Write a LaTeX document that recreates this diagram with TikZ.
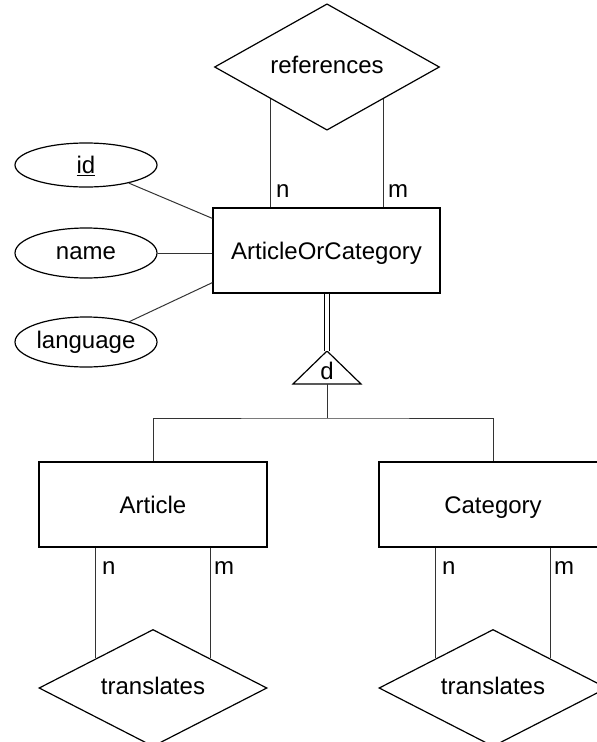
\documentclass[tikz,border=0pt]{standalone}
\usepackage{fontspec}
\setmainfont{Liberation Sans}
\usetikzlibrary{shapes.geometric,calc}

\tikzset{
  every node/.style={font=\fontsize{24}{28}\selectfont, inner sep=0pt},
  shape line/.style={line width=1.2pt, draw=black},
  link/.style={line width=1pt, draw=black!80},
  caps/.style={text height=17pt, text depth=0pt},
  lower/.style={text height=13pt, text depth=0pt},
  entity/.style={shape line, rectangle, minimum height=85pt, caps},
  relation/.style={shape line, diamond, minimum height=113pt, lower},
  attribute/.style={shape line, ellipse, minimum width=142pt, lower},
  card/.style={anchor=base west},
}

\begin{document}
\begin{tikzpicture}[x=1pt, y=-1pt]
  \useasboundingbox (0,0) rectangle (597,742);
  \clip (0,0) rectangle (597,742);

  % relationship on the supertype
  \node[relation, minimum width=225pt] (ref) at (327,67) {references};

  % supertype and its attributes
  \node[entity, minimum width=227pt] (aoc) at (326.5,250.5) {ArticleOrCategory};
  \node[attribute, minimum height=44pt, caps] (id) at (86,165) {\underline{id}};
  \node[attribute, minimum height=50pt] (name) at (86,253) {name};
  \node[attribute, minimum height=50pt] (lang) at (86,342) {language};

  % disjoint specialisation triangle
  \coordinate (apex) at (327,351);
  \coordinate (tribase) at (327,384);
  \draw[shape line] (apex) -- ++(34,33) -- ++(-68,0) -- cycle;
  \node[anchor=base] (dlabel) at (327,379) {d};
  \coordinate (split) at (327,418);

  % subtypes
  \node[entity, minimum width=228pt] (art) at (153,504.5) {Article};
  \node[entity, minimum width=228pt] (cat) at (493,504.5) {Category};

  % translation relationships
  \node[relation, minimum width=228pt] (tl) at (153,688) {translates};
  \node[relation, minimum width=228pt] (tr) at (493,688) {translates};

  % attribute links
  \draw[link] (id) -- ([yshift=-11pt]aoc.north west);
  \draw[link] (name) -- (name -| aoc.west);
  \draw[link] (lang) -- ([yshift=11pt]aoc.south west);

  % references links
  \coordinate (refn) at ($(ref.west)!0.5!(ref.south)$);
  \coordinate (refm) at ($(ref.east)!0.5!(ref.south)$);
  \draw[link] (refn) -- (refn |- aoc.north);
  \draw[link] (refm) -- (refm |- aoc.north);
  \node[card] (refnl) at (276,197) {n};
  \node[card] (refml) at (388,197) {m};

  % specialisation links
  \draw[line width=1pt, draw=black, double=white, double distance=3.5pt] (aoc.south -| apex) -- (apex);
  \draw[link] (tribase) -- (split);
  \draw[link] (art.north) |- (split) -| (cat.north);

  % Article translates
  \coordinate (tln) at ($(tl.west)!0.5!(tl.north)$);
  \coordinate (tlm) at ($(tl.east)!0.5!(tl.north)$);
  \draw[link] (tln) -- (tln |- art.south);
  \draw[link] (tlm) -- (tlm |- art.south);
  \node[card] (tlnl) at (102,574) {n};
  \node[card] (tlml) at (214,574) {m};

  % Category translates
  \coordinate (trn) at ($(tr.west)!0.5!(tr.north)$);
  \coordinate (trm) at ($(tr.east)!0.5!(tr.north)$);
  \draw[link] (trn) -- (trn |- cat.south);
  \draw[link] (trm) -- (trm |- cat.south);
  \node[card] (trnl) at (442,574) {n};
  \node[card] (trml) at (554,574) {m};
\end{tikzpicture}
\end{document}
